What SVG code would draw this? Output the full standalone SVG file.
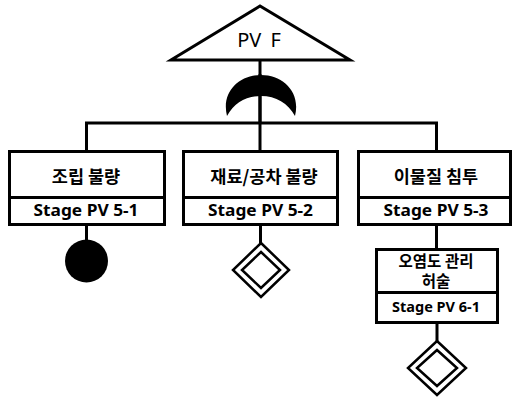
<svg xmlns="http://www.w3.org/2000/svg" width="512" height="397" viewBox="0 0 512 397">
  <style>
    .box { fill: #fff; stroke: #000; stroke-width: 3; }
    .wire { fill: none; stroke: #000; stroke-width: 3; }
    .ko { font-family: "Noto Sans CJK KR", "Noto Sans", sans-serif; font-size: 17.5px; font-weight: bold; text-anchor: middle; fill: #000; }
    .ko2 { font-family: "Noto Sans CJK KR", "Noto Sans", sans-serif; font-size: 15.5px; font-weight: bold; text-anchor: middle; fill: #000; }
    .st { font-family: "Noto Sans", "Noto Sans CJK KR", sans-serif; font-size: 16px; font-weight: bold; text-anchor: middle; fill: #000; }
    .st2 { font-family: "Noto Sans", "Noto Sans CJK KR", sans-serif; font-size: 13.5px; font-weight: bold; text-anchor: middle; fill: #000; }
    .dia { fill: #fff; stroke: #000; stroke-width: 2.5; }
  </style>

  <!-- connectors -->
  <g id="connectors">
    <line class="wire" x1="260" y1="60" x2="260" y2="124"/>
    <line class="wire" x1="85" y1="123" x2="438" y2="123"/>
    <line class="wire" x1="86.5" y1="123" x2="86.5" y2="151"/>
    <line class="wire" x1="260" y1="123" x2="260" y2="152"/>
    <line class="wire" x1="436.5" y1="123" x2="436.5" y2="151"/>
    <line class="wire" x1="86.5" y1="224" x2="86.5" y2="242"/>
    <line class="wire" x1="260.5" y1="224" x2="260.5" y2="244"/>
    <line class="wire" x1="436.5" y1="224" x2="436.5" y2="250"/>
    <line class="wire" x1="437" y1="322" x2="437" y2="342"/>
  </g>

  <!-- top event -->
  <g id="top">
    <polygon points="260,6 171,60 350,60" fill="#fff" stroke="#000" stroke-width="3" stroke-linejoin="miter"/>
    <text x="259" y="47" font-family="Noto Sans, Noto Sans CJK KR, sans-serif" font-size="20" word-spacing="4" text-anchor="middle">PV F</text>
  </g>

  <!-- gate -->
  <g id="gate">
    <path d="M227,116 C221,92 239,75 261,75 C283,75 301,92 295,116 C288,103 276,96 261,96 C246,96 234,103 227,116 Z" fill="#000"/>
    <line class="wire" x1="260" y1="74" x2="260" y2="124"/>
  </g>

  <!-- 조립 불량 -->
  <g id="n1">
    <rect class="box" x="9.5" y="151.5" width="155" height="46"/>
    <rect class="box" x="9.5" y="197.5" width="155" height="27"/>
    <text class="ko" x="86" y="183">조립 불량</text>
    <text class="st" x="86" y="216" textLength="105" lengthAdjust="spacingAndGlyphs">Stage PV 5-1</text>
  </g>
  <g id="n1e">
    <circle cx="86.5" cy="261" r="21.5" fill="#000"/>
  </g>

  <!-- 재료/공차 불량 -->
  <g id="n2">
    <rect class="box" x="183.5" y="151.5" width="154" height="46"/>
    <rect class="box" x="183.5" y="197.5" width="154" height="27"/>
    <text class="ko" x="264" y="183">재료/공차 불량</text>
    <text class="st" x="260.5" y="216" textLength="105" lengthAdjust="spacingAndGlyphs">Stage PV 5-2</text>
  </g>
  <g id="n2e">
    <polygon class="dia" points="261,243 289,270 261,297 233,270"/>
    <polygon class="dia" points="261,252 280,270 261,288 242,270"/>
  </g>

  <!-- 이물질 침투 -->
  <g id="n3">
    <rect class="box" x="358.5" y="151.5" width="152" height="46"/>
    <rect class="box" x="358.5" y="197.5" width="152" height="27"/>
    <text class="ko" x="436" y="183">이물질 침투</text>
    <text class="st" x="436" y="216" textLength="105" lengthAdjust="spacingAndGlyphs">Stage PV 5-3</text>
  </g>

  <!-- 오염도 관리 허술 -->
  <g id="n4">
    <rect class="box" x="376.5" y="249.5" width="121" height="43"/>
    <rect class="box" x="376.5" y="292.5" width="121" height="30"/>
    <text class="ko2" x="436" y="267">오염도 관리</text>
    <text class="ko2" x="436" y="287">허술</text>
    <text class="st2" x="436" y="312" textLength="88" lengthAdjust="spacingAndGlyphs">Stage PV 6-1</text>
  </g>
  <g id="n4e">
    <polygon class="dia" points="437,341 466,368 437,395 408,368"/>
    <polygon class="dia" points="437,350 457,368 437,386 417,368"/>
  </g>
</svg>
